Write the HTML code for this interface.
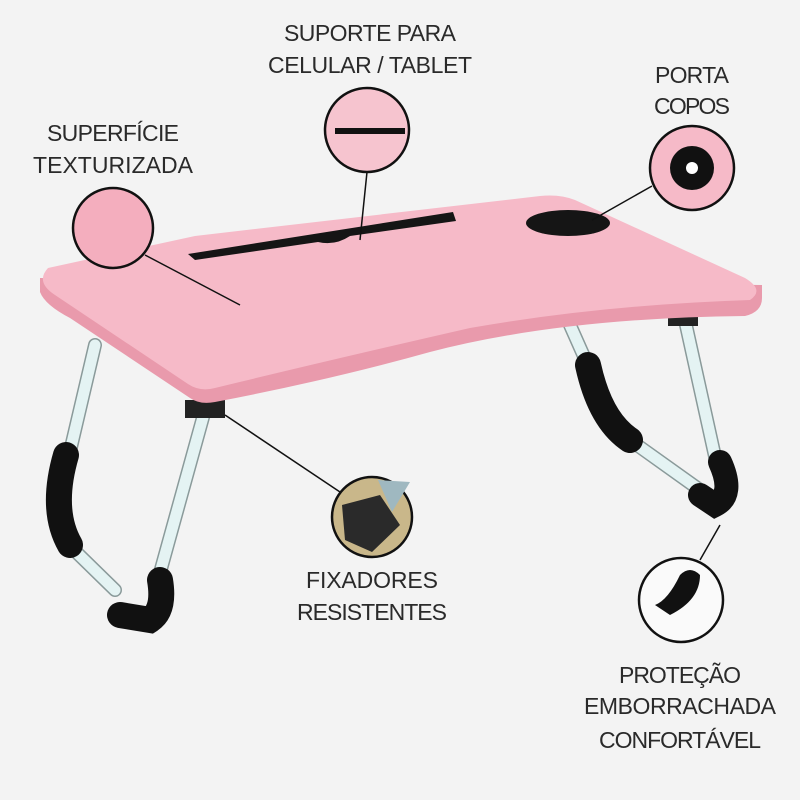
<!DOCTYPE html>
<html><head><meta charset="utf-8"><style>
html,body{margin:0;padding:0;background:#f3f3f3;}
svg{display:block}
text{font-family:"Liberation Sans",sans-serif;font-size:23px;fill:#2a2a2a;text-anchor:middle}
</style></head><body>
<svg width="800" height="800" viewBox="0 0 800 800">
<rect width="800" height="800" fill="#f3f3f3"/>
<g stroke-linecap="round" fill="none">
<!-- back legs -->
<path d="M570,325 L590,370" stroke="#8a9a9a" stroke-width="14"/>
<path d="M570,325 L590,370" stroke="#e4f3f3" stroke-width="11"/>
<path d="M630,440 L700,490" stroke="#8a9a9a" stroke-width="14"/>
<path d="M630,440 L700,490" stroke="#e4f3f3" stroke-width="11"/>
<path d="M686,325 L718,470" stroke="#8a9a9a" stroke-width="14"/>
<path d="M686,325 L718,470" stroke="#e4f3f3" stroke-width="11"/>
<path d="M588,365 Q600,420 630,440" stroke="#111" stroke-width="26"/>
<path d="M720,462 Q735,495 715,505 L700,495" stroke="#111" stroke-width="24"/>
<!-- front legs -->
<path d="M95,345 L68,460" stroke="#8a9a9a" stroke-width="14"/>
<path d="M95,345 L68,460" stroke="#e4f3f3" stroke-width="11"/>
<path d="M72,548 L115,590" stroke="#8a9a9a" stroke-width="14"/>
<path d="M72,548 L115,590" stroke="#e4f3f3" stroke-width="11"/>
<path d="M205,410 L158,580" stroke="#8a9a9a" stroke-width="14"/>
<path d="M205,410 L158,580" stroke="#e4f3f3" stroke-width="11"/>
<path d="M66,455 Q50,510 70,545" stroke="#111" stroke-width="26"/>
<path d="M160,580 Q165,610 150,620 L120,615" stroke="#111" stroke-width="26"/>
</g>
<rect x="185" y="400" width="40" height="18" fill="#222"/>
<rect x="668" y="312" width="30" height="14" fill="#222"/>
<!-- table edge -->
<path d="M40,278 L40,292 Q45,305 70,318 L190,398 Q200,405 215,402 Q330,380 430,352 Q560,318 745,316 Q762,312 762,298 L762,285 Z" fill="#e99aac"/>
<!-- table top -->
<path d="M48,268 L195,236 L540,196 Q560,194 575,200 L745,278 Q765,290 750,300 Q600,305 470,328 Q330,360 215,388 Q200,392 188,384 L55,295 Q35,282 48,268 Z" fill="#f6bac8"/>
<!-- slot and cup -->
<path d="M188,254 L453,212 L456,221 L350,236 Q335,246 318,242 L195,260 Z" fill="#151515"/>
<ellipse cx="568" cy="223" rx="42" ry="13" fill="#151515"/>
<!-- connectors -->
<g stroke="#111" stroke-width="1.5">
<line x1="145" y1="255" x2="240" y2="305"/>
<line x1="367" y1="172" x2="360" y2="240"/>
<line x1="652" y1="186" x2="592" y2="220"/>
<line x1="225" y1="415" x2="340" y2="492"/>
<line x1="720" y1="525" x2="700" y2="560"/>
</g>
<!-- circles -->
<circle cx="113" cy="228" r="40" fill="#f4aebe" stroke="#111" stroke-width="2.5"/>
<circle cx="367" cy="130" r="42" fill="#f6c4cf" stroke="#111" stroke-width="2.5"/>
<rect x="335" y="128" width="70" height="6" fill="#111"/>
<circle cx="692" cy="168" r="42" fill="#f6bac8" stroke="#111" stroke-width="2.5"/>
<circle cx="692" cy="168" r="22" fill="#111"/><circle cx="692" cy="168" r="6" fill="#fff"/>
<circle cx="372" cy="517" r="40" fill="#c9b78a" stroke="#111" stroke-width="2.5"/>
<path d="M342,505 L380,495 L400,525 L372,552 L345,540 Z" fill="#2a2a2a"/>
<path d="M378,480 L410,482 L392,512 Z" fill="#9fb8c0"/>
<circle cx="681" cy="600" r="42" fill="#fafafa" stroke="#111" stroke-width="2.5"/>
<path d="M655,605 Q668,600 680,575 Q690,565 700,575 Q700,600 670,615 Z" fill="#111"/>
<!-- labels -->
<text x="113" y="141" textLength="132">SUPERFÍCIE</text>
<text x="113" y="173" textLength="160">TEXTURIZADA</text>
<text x="370" y="41" textLength="172">SUPORTE PARA</text>
<text x="370" y="73" textLength="204">CELULAR / TABLET</text>
<text x="692" y="83" textLength="74">PORTA</text>
<text x="692" y="114" textLength="76">COPOS</text>
<text x="372" y="588" textLength="132">FIXADORES</text>
<text x="372" y="620" textLength="150">RESISTENTES</text>
<text x="680" y="683" textLength="122">PROTEÇÃO</text>
<text x="680" y="714" textLength="192">EMBORRACHADA</text>
<text x="680" y="748" textLength="162">CONFORTÁVEL</text>
</svg>
</body></html>
